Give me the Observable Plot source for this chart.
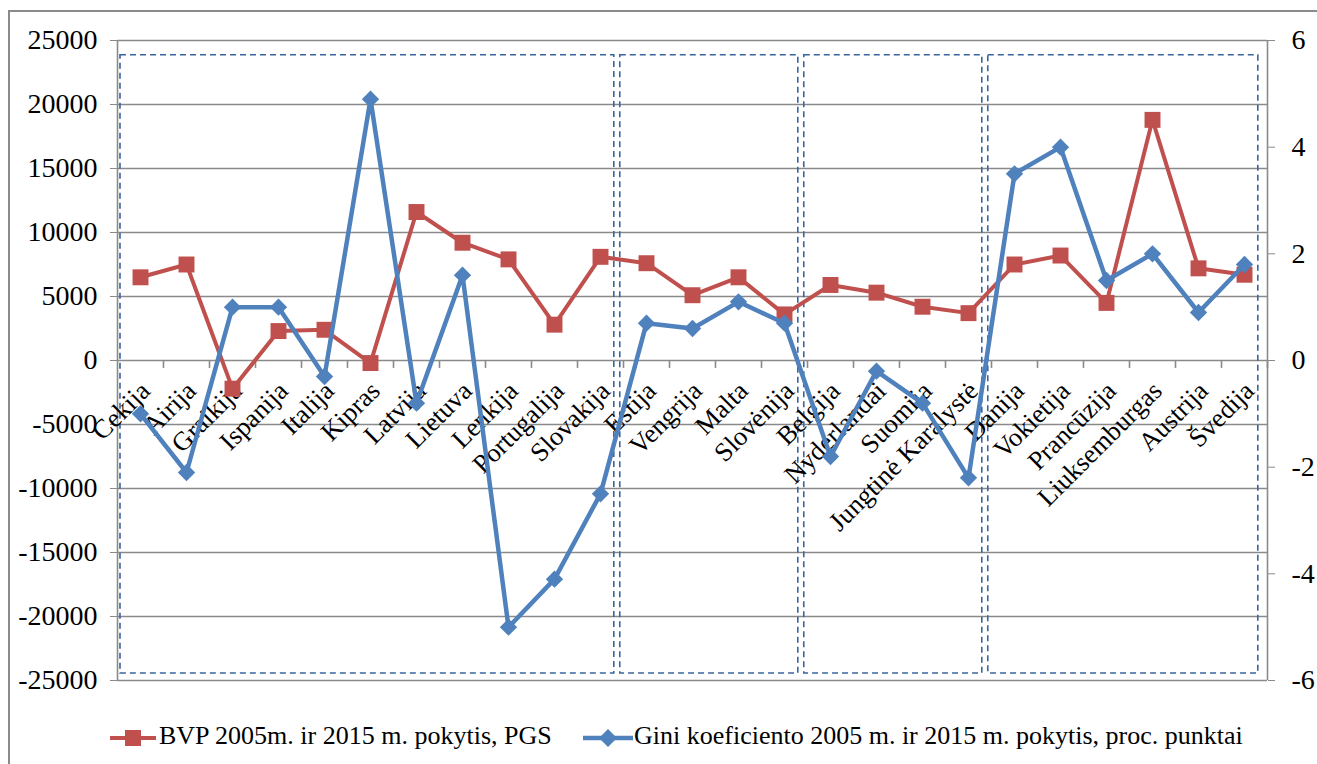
<!DOCTYPE html>
<html><head><meta charset="utf-8">
<script src="https://cdn.jsdelivr.net/npm/d3@7"></script>
<script src="https://cdn.jsdelivr.net/npm/@observablehq/plot@0.6"></script>
<style>
body{margin:0;background:#fff;}
#wrap{position:relative;width:1317px;height:764px;overflow:hidden;font-family:"Liberation Serif","Times New Roman",serif;background:#fff;}
#frame{position:absolute;left:8px;top:10px;width:1400px;height:800px;border-left:2px solid #8a8a8a;border-top:2px solid #8a8a8a;}
#chart{position:absolute;left:0;top:0;}
#chart svg text{font-family:"Liberation Serif","Times New Roman",serif !important;font-variant:normal !important;}
.sw{position:absolute;top:728px;}
.lt{position:absolute;top:721px;font-size:26px;line-height:30px;white-space:nowrap;color:#000;}
</style></head><body>
<div id="wrap"><div id="frame"></div><div id="chart"></div><div id="legend"></div></div>
<script>
const categories = ["Cekija","Airija","Graikija","Ispanija","Italija","Kipras","Latvija","Lietuva","Lenkija","Portugalija","Slovakija","Estija","Vengrija","Malta","Slovėnija","Belgija","Nyderlandai","Suomija","Jungtinė Karalystė","Danija","Vokietija","Prancūzija","Liuksemburgas","Austrija","Švedija"];
const bvp = [6500,7500,-2200,2300,2400,-200,11600,9200,7900,2800,8100,7600,5100,6500,3600,5900,5300,4200,3700,7500,8200,4500,18800,7200,6700];
const gini = [-1.0,-2.1,1.0,1.0,-0.3,4.9,-0.8,1.6,-5.0,-4.1,-2.5,0.7,0.6,1.1,0.7,-1.8,-0.2,-0.8,-2.2,3.5,4.0,1.5,2.0,0.9,1.8];
const leftTicks = [-25000,-20000,-15000,-10000,-5000,0,5000,10000,15000,20000,25000];
const rightTicks = [-6,-4,-2,0,2,4,6];
const groupFrom = ["Cekija","Estija","Belgija","Danija"];
const groupTo = ["Slovakija","Slovėnija","Jungtinė Karalystė","Švedija"];
const seriesNames = ["BVP 2005m. ir 2015 m. pokytis, PGS","Gini koeficiento 2005 m. ir 2015 m. pokytis, proc. punktai"];

const RED = "#C0504D", BLUE = "#4F81BD", GRID = "#8a8a8a", BOX = "#3A64A0";
const K = 25000 / 6; // right axis (-6..6) mapped onto left axis (-25000..25000)
const bvpData = categories.map((c, i) => ({i, v: bvp[i]}));
const giniData = categories.map((c, i) => ({i, v: gini[i] * K}));
const boundaries = d3.range(1, categories.length + 1).map(i => i - 0.5);
const groups = groupFrom.map((f, g) => {
  const a = categories.indexOf(f), b = categories.indexOf(groupTo[g]);
  return {x1: a === 0 ? a - 0.435 : a - 0.57, x2: b + 0.3};
});
const font = "Liberation Serif";

const chart = Plot.plot({
  width: 1317, height: 700,
  marginLeft: 117, marginRight: 50, marginTop: 40, marginBottom: 20,
  style: {background: "transparent", fontFamily: font, color: "#000", overflow: "visible"},
  x: {type: "linear", domain: [-0.5, categories.length - 0.5], axis: null},
  y: {domain: [-25000, 25000], axis: null},
  marks: [
    Plot.ruleY(leftTicks, {y: d => d, x1: -0.5, x2: categories.length - 0.5, stroke: GRID, strokeWidth: 1.6}),
    Plot.ruleX([-0.5, categories.length - 0.5], {x: d => d, y1: -25000, y2: 25000, stroke: GRID, strokeWidth: 1.6}),
    Plot.ruleX(boundaries, {x: d => d, y1: 0, y2: -620, stroke: GRID, strokeWidth: 1.6}),
    Plot.axisY(leftTicks, {anchor: "left", tickSize: 7, tickPadding: 13, fontSize: 28, fontFamily: font, stroke: GRID, tickFormat: d => String(d), label: null}),
    Plot.axisY(rightTicks.map(v => v * K), {anchor: "right", tickSize: 7, tickPadding: 17, fontSize: 28, fontFamily: font, stroke: GRID, tickFormat: d => String(Math.round(d / K)), label: null}),
    Plot.rect(groups, {x1: "x1", x2: "x2", y1: -24450, y2: 23850, fill: "none", stroke: BOX, strokeWidth: 1.6, strokeDasharray: "6,4"}),
    Plot.text(categories, {x: (d, i) => i, y: 0, text: d => d, rotate: -45, textAnchor: "end", fontSize: 26.5, fontFamily: font, fill: "#000", dx: 5, dy: 26}),
    Plot.line(bvpData, {x: "i", y: "v", stroke: RED, strokeWidth: 4}),
    Plot.dot(bvpData, {x: "i", y: "v", symbol: "square", r: 9, fill: RED, stroke: "none"}),
    Plot.line(giniData, {x: "i", y: "v", stroke: BLUE, strokeWidth: 4.5}),
    Plot.dot(giniData, {x: "i", y: "v", symbol: "diamond2", r: 7.8, fill: BLUE, stroke: "none"})
  ]
});
document.getElementById("chart").appendChild(chart);

const leg = document.getElementById("legend");
leg.innerHTML =
  `<svg class="sw" style="left:108px" width="50" height="20"><line x1="2" y1="10" x2="48" y2="10" stroke="${RED}" stroke-width="4"/><rect x="17" y="2" width="16" height="16" fill="${RED}"/></svg>` +
  `<span class="lt" style="left:159px">${seriesNames[0]}</span>` +
  `<svg class="sw" style="left:581px" width="54" height="20"><line x1="2" y1="10" x2="52" y2="10" stroke="${BLUE}" stroke-width="4.5"/><path d="M27,1 L36,10 L27,19 L18,10 Z" fill="${BLUE}"/></svg>` +
  `<span class="lt" style="left:634px">${seriesNames[1]}</span>`;
</script>
</body></html>
